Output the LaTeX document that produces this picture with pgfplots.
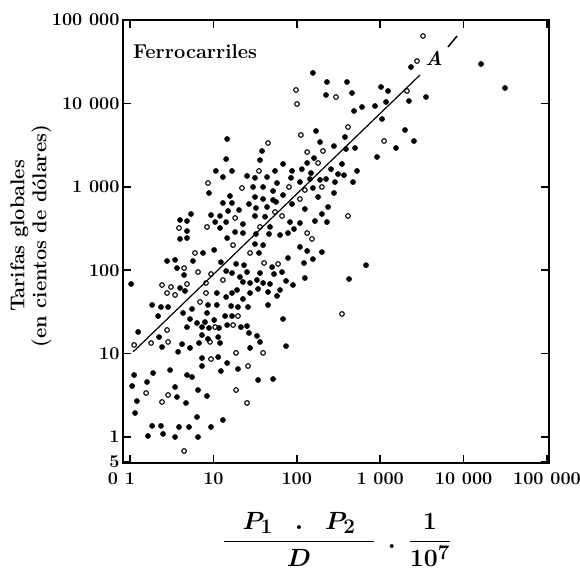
\documentclass[border=0pt]{standalone}
\usepackage{amsmath}
\usepackage{pgfplots}
\usepackage{pgfplotstable}
\pgfplotsset{compat=1.18}
\pgfplotstableread{
x y
10.7 1550
8.85 843
3.98 400
4.82 389
5.39 472
9.36 459
12.0 447
4.82 295
10.5 378
12.0 321
3.98 237
4.82 243
7.50 161
10.2 175
5.69 129
2.78 129
3.47 133
3.66 106
4.45 87.6
12.3 125
14.6 3740
14.2 2150
13.0 1310
13.0 640
15.0 513
14.2 378
14.6 243
14.2 97.8
156 23200
230 18060
224 12610
170 4670
190 3440
38.3 2690
36.2 2090
161 2210
68.4 1880
133 1930
54.8 1550
87.6 1550
115 1630
148 1460
16.7 1550
25.3 1350
31.5 1280
44.0 1310
85.2 1280
109 1140
144 1240
190 1210
29.9 995
39.4 995
57.9 1110
51.9 891
156 968
15.8 776
31.5 755
39.4 714
51.9 695
68.4 797
180 755
16.7 640
26.7 622
44.0 573
56.4 658
87.6 622
20.3 527
32.4 557
125 542
31.5 447
41.6 437
82.9 378
109 368
165 389
200 472
22.6 358
47.7 330
18.2 287
22.6 279
32.4 272
46.4 272
62.9 264
78.4 279
92.5 312
31.5 206
39.4 200
109 190
133 170
200 165
35.2 161
18.7 119
23.3 115
78.4 140
122 122
156 136
16.7 92.5
25.3 95.1
36.2 92.5
50.5 109
53.3 90.0
66.5 95.1
20.8 82.9
22.6 72.3
27.5 70.3
33.3 76.3
39.4 70.3
47.7 68.4
74.3 74.3
90.0 66.5
125 80.6
16.7 53.3
19.2 57.9
22.6 45.2
27.5 53.3
34.3 59.6
45.2 54.8
62.9 57.9
57.9 49.1
16.3 37.2
19.7 36.2
26.0 36.2
45.2 38.3
16.7 28.2
68.4 26.0
21.4 20.8
25.3 21.4
26.7 17.7
33.3 16.3
36.2 13.8
74.3 12.3
27.5 11.7
19.7 6.54
34.3 4.82
51.9 4.96
2339 27300
400 18060
459 13330
1023 15740
1242 14090
3540 11930
2213 10690
1175 10400
867 9310
605 9060
485 8110
1052 6500
1982 4800
378 3950
2541 3540
1547 2920
279 3080
389 2840
499 2920
916 2280
348 1880
257 1630
312 1420
368 1380
527 1550
224 1240
287 1140
472 1140
279 843
230 378
676 115
423 78.4
16180 29700
31350 15300
237 573
1.03 68.4
3.98 61.2
4.57 56.4
11.0 53.3
1.84 38.3
2.35 36.2
2.86 36.2
4.33 30.7
5.54 34.3
8.61 38.3
11.0 38.3
2.17 28.2
8.38 30.7
5.24 26.0
6.36 23.3
7.93 23.9
10.2 25.3
4.82 20.8
7.30 20.8
8.85 20.3
11.7 20.3
1.25 18.2
2.23 15.8
7.30 16.7
8.61 15.0
11.4 15.8
2.42 12.0
4.21 13.0
5.24 11.7
6.72 13.4
12.0 13.4
3.77 10.5
7.30 8.85
11.4 9.10
7.30 7.10
1.12 5.54
1.89 5.85
3.02 6.35
4.82 5.54
5.54 5.24
12.3 6.18
1.06 4.09
1.60 4.57
3.47 3.98
6.54 3.66
3.66 3.02
8.38 3.10
1.21 2.70
4.69 2.56
1.15 1.94
6.36 1.74
13.0 1.60
1.84 1.36
2.35 1.36
3.87 1.32
5.10 1.32
9.36 1.32
1.64 1.03
2.49 1.09
3.47 1.0
6.54 1.0
14.2 47.7
13.8 28.2
14.6 22.0
14.6 7.71
}\filled
\pgfplotstableread{
x y
8.61 1110
3.87 321
8.38 330
6.01 161
4.45 106
6.54 95.1
9.36 90.0
13.0 76.3
97.8 14490
100.5 9840
112 4180
45.2 3350
133 2610
206 2690
180 1930
35.2 1550
22.0 968
80.6 995
125 916
200 995
109 714
54.8 499
18.2 423
66.5 447
36.2 330
133 279
152 237
17.2 200
27.5 161
40.5 122
59.6 119
19.7 28.2
17.2 22.0
18.7 10.2
39.4 10.2
26.0 7.10
18.7 3.66
25.3 2.56
3260 64300
2761 32200
295 11930
2094 14090
411 5210
1112 3540
411 447
348 29.9
2.42 66.5
3.10 62.9
4.82 68.4
2.78 53.3
3.47 50.5
8.15 70.3
8.15 53.3
6.91 41.6
2.78 19.2
10.5 20.8
2.86 13.8
1.12 12.7
1.79 13.4
9.10 13.8
9.36 8.61
1.56 3.37
2.86 3.19
2.42 2.63
4.45 0.68
}\hollow
\newsavebox\xlabbox
\begin{document}
\sbox\xlabbox{\fontsize{28}{30}\selectfont\mathversion{bold}$\dfrac{\makebox[150pt]{$P_1\mkern14mu.\mkern14mu P_2$}}{D}\mkern8mu.\mkern8mu\dfrac{1}{10^7}$}%
\begin{tikzpicture}
\path[use as bounding box] (0pt,0pt) rectangle (580pt,-571pt);
\begin{axis}[
  at={(123pt,-463pt)}, anchor=south west,
  scale only axis, width=426pt, height=443pt,
  xmode=log, ymode=log,
  xmin=0.824, xmax=105700, ymin=0.488, ymax=100000,
  axis line style={line width=1.9pt},
  tick align=inside, major tick length=8pt,
  tick style={line width=1.5pt, black},
  xminorticks=false, yminorticks=false,
  xtick={1,10,100,1000,10000,100000},
  xticklabels={{\llap{0\hspace{7pt}}1},10,100,1 000,10 000,100 000},
  ytick={0.5,1,10,100,1000,10000,100000},
  yticklabels={5,1,10,100,1 000,10 000,100 000},
  ticklabel style={font=\fontsize{18}{19}\selectfont\bfseries},
  xticklabel style={yshift=-6pt},
  clip=false,
]
\addplot[only marks, mark=*, mark size=2.6pt, black] table[x=x,y=y] {\filled};
\addplot[only marks, mark=o, mark size=2.3pt, mark options={line width=1.1pt, fill=white}, black] table[x=x,y=y] {\hollow};
\addplot[black, line width=1.2pt] coordinates {(1.096,10.54) (3000,21900)};
\addplot[black, line width=1.5pt] coordinates {(6500,47500) (8340,64300)};
\end{axis}
\node[anchor=base west, inner sep=0pt, font=\fontsize{20}{22}\selectfont\bfseries] at (133pt,-58pt) {Ferrocarriles};
\node[inner sep=0pt, font=\fontsize{20}{20}\selectfont\bfseries\itshape] at (434pt,-58pt) {A};
\node[rotate=90, align=center, inner sep=0pt, font=\fontsize{20}{22}\selectfont\bfseries] at (31pt,-236pt) {Tarifas globales\\(en cientos de dólares)};
\node[anchor=base, inner sep=0pt] at (337pt,-548pt) {\usebox\xlabbox};
\end{tikzpicture}
\end{document}
